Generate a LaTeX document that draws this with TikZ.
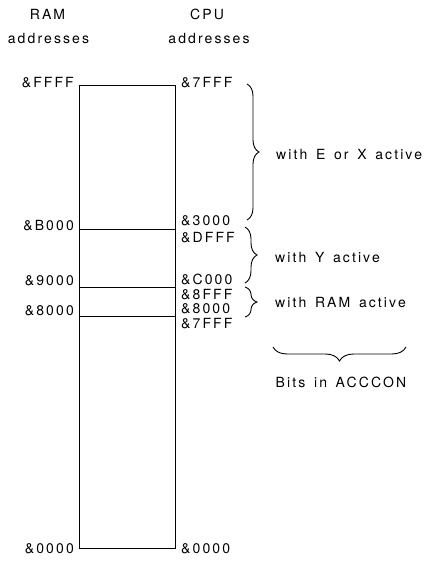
\documentclass[tikz,border=0pt]{standalone}
\usepackage{fontspec}
\setmainfont{TeX Gyre Heros}[LetterSpace=15,WordSpace=1.45]
\usetikzlibrary{decorations.pathreplacing}
\begin{document}
\begin{tikzpicture}[x=1pt,y=-1pt,
  lbl/.style={inner sep=0pt,font=\fontsize{14}{16}\selectfont},
  addrL/.style={lbl,anchor=base east},
  addrR/.style={lbl,anchor=base west},
  note/.style={lbl,anchor=base west},
  frame/.style={line width=0.9pt},
  bracestyle/.style={line width=0.9pt,decorate,decoration={brace,amplitude=12pt}}]
\useasboundingbox (0,0) rectangle (426,561);
% memory block
\coordinate (tl) at (79,85);
\coordinate (br) at (175,548);
\node[frame,draw,anchor=north west,minimum width=96pt,minimum height=463pt,inner sep=0pt] (mem) at (tl) {};
\coordinate (lB) at (79,229);  \coordinate (rB) at (175,229);
\coordinate (l9) at (79,287);  \coordinate (r9) at (175,287);
\coordinate (l8) at (79,316);  \coordinate (r8) at (175,316);
\draw[frame] (lB) -- (rB);
\draw[frame] (l9) -- (r9);
\draw[frame] (l8) -- (r8);
% headers
\node[lbl,anchor=base] (hram) at (47.5,20) {RAM};
\node[lbl,anchor=base] (hramaddr) at (48.5,44) {addresses};
\node[lbl,anchor=base] (hcpu) at (207,20) {CPU};
\node[lbl,anchor=base] (hcpuaddr) at (209,44) {addresses};
% RAM addresses
\node[addrL] (aFFFF) at (74,88) {\&FFFF};
\node[addrL] (aB000) at (74,230) {\&B000};
\node[addrL] (a9000) at (74,285) {\&9000};
\node[addrL] (a8000) at (74,315) {\&8000};
\node[addrL] (a0000) at (74,553) {\&0000};
% CPU addresses
\node[addrR] (c7FFF) at (181,88) {\&7FFF};
\node[addrR] (c3000) at (181,225) {\&3000};
\node[addrR] (cDFFF) at (181,242) {\&DFFF};
\node[addrR] (cC000) at (181,284) {\&C000};
\node[addrR] (c8FFF) at (181,299) {\&8FFF};
\node[addrR] (c8000) at (181,313) {\&8000};
\node[addrR] (c7FFFb) at (181,328) {\&7FFF};
\node[addrR] (c0000) at (181,553) {\&0000};
% braces
\coordinate (b1t) at (247,84);  \coordinate (b1b) at (247,220);
\coordinate (b2t) at (245,227); \coordinate (b2b) at (245,283);
\coordinate (b3t) at (245,287); \coordinate (b3b) at (245,317);
\coordinate (b4r) at (406,347); \coordinate (b4l) at (273,347);
\draw[bracestyle] (b1t) -- (b1b);
\draw[bracestyle] (b2t) -- (b2b);
\draw[bracestyle] (b3t) -- (b3b);
\draw[bracestyle,decoration={amplitude=14pt}] (b4r) -- (b4l);
\node[note] (tEX) at (276,160) {with E or X active};
\node[note] (tY) at (275,262) {with Y active};
\node[note] (tRAM) at (275,307) {with RAM active};
\node[lbl,anchor=base] (tBits) at (341,387) {Bits in ACCCON};
\end{tikzpicture}
\end{document}
